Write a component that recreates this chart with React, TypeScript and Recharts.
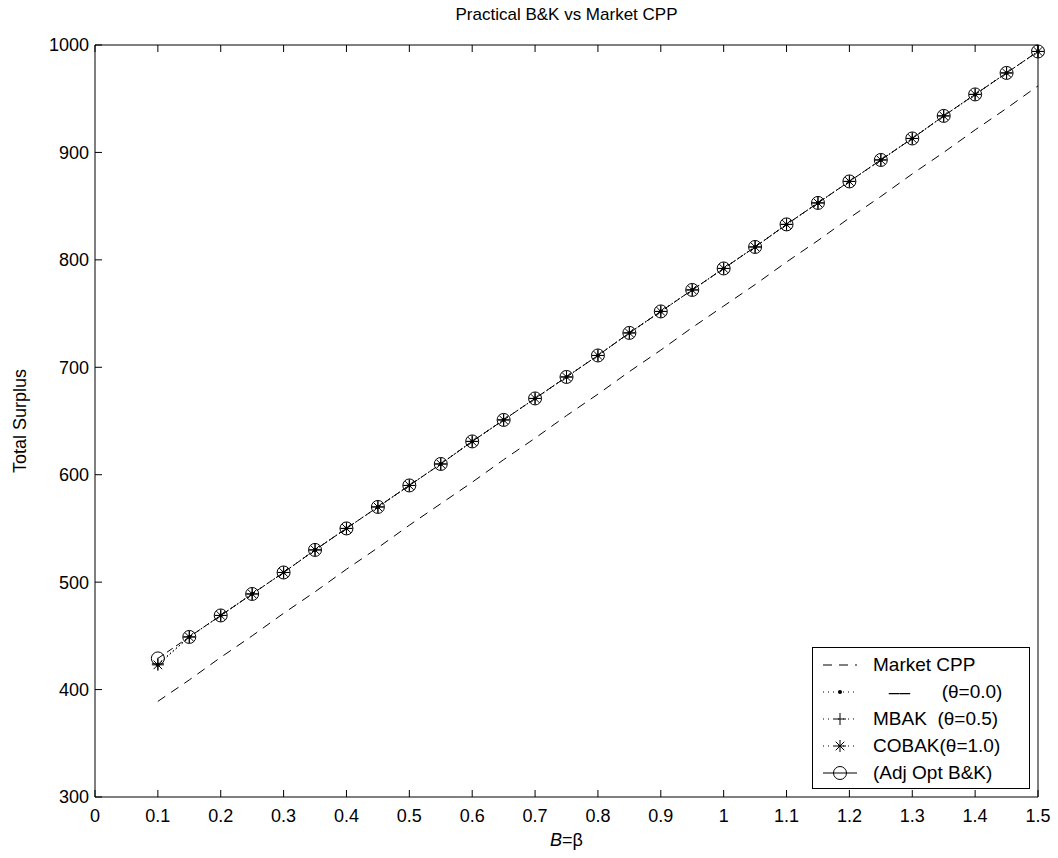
import React from 'react';
import { LineChart, Line, XAxis, YAxis, Legend } from 'recharts';

const betas = [0.1, 0.15, 0.2, 0.25, 0.3, 0.35, 0.4, 0.45, 0.5, 0.55, 0.6, 0.65, 0.7, 0.75, 0.8, 0.85, 0.9, 0.95, 1.0, 1.05, 1.1, 1.15, 1.2, 1.25, 1.3, 1.35, 1.4, 1.45, 1.5];
const marketCPP = [389, 409, 430, 450, 471, 491, 512, 532, 553, 573, 593, 614, 634, 655, 675, 696, 716, 737, 757, 777, 798, 818, 839, 859, 880, 900, 921, 941, 962];
const theta00 = [423, 449, 469, 489, 509, 530, 550, 570, 590, 610, 631, 651, 671, 691, 711, 732, 752, 772, 792, 812, 833, 853, 873, 893, 913, 934, 954, 974, 994];
const theta05 = [424, 449, 469, 489, 509, 530, 550, 570, 590, 610, 631, 651, 671, 691, 711, 732, 752, 772, 792, 812, 833, 853, 873, 893, 913, 934, 954, 974, 994];
const theta10 = [423, 449, 469, 489, 509, 530, 550, 570, 590, 610, 631, 651, 671, 691, 711, 732, 752, 772, 792, 812, 833, 853, 873, 893, 913, 934, 954, 974, 994];
const adjOpt = [429, 449, 469, 489, 509, 530, 550, 570, 590, 610, 631, 651, 671, 691, 711, 732, 752, 772, 792, 812, 833, 853, 873, 893, 913, 934, 954, 974, 994];

const xTicks = [0, 0.1, 0.2, 0.3, 0.4, 0.5, 0.6, 0.7, 0.8, 0.9, 1, 1.1, 1.2, 1.3, 1.4, 1.5];
const yTicks = [300, 400, 500, 600, 700, 800, 900, 1000];

const title = 'Practical B&K vs Market CPP';
const yLabel = 'Total Surplus';

const data = betas.map((b, i) => ({
  beta: b,
  market: marketCPP[i],
  t0: theta00[i],
  t5: theta05[i],
  t10: theta10[i],
  adj: adjOpt[i],
}));

const FONT = '"Liberation Sans", Arial, Helvetica, sans-serif';
const TICK_FS = 18;

type MarkerKind = 'none' | 'dot' | 'plus' | 'star' | 'circle';

const Marker = ({ kind, cx, cy }: { kind: MarkerKind; cx: number; cy: number }) => {
  const s = 6;
  if (kind === 'dot') return <circle cx={cx} cy={cy} r={2} fill="#000" />;
  if (kind === 'plus')
    return (
      <g stroke="#000" strokeWidth={1}>
        <line x1={cx - s} y1={cy} x2={cx + s} y2={cy} />
        <line x1={cx} y1={cy - s} x2={cx} y2={cy + s} />
      </g>
    );
  if (kind === 'star') {
    const d = s * 0.72;
    return (
      <g stroke="#000" strokeWidth={1}>
        <line x1={cx - s} y1={cy} x2={cx + s} y2={cy} />
        <line x1={cx} y1={cy - s} x2={cx} y2={cy + s} />
        <line x1={cx - d} y1={cy - d} x2={cx + d} y2={cy + d} />
        <line x1={cx - d} y1={cy + d} x2={cx + d} y2={cy - d} />
      </g>
    );
  }
  if (kind === 'circle') return <circle cx={cx} cy={cy} r={6.5} fill="none" stroke="#000" strokeWidth={1} />;
  return null;
};

const series = [
  { key: 'market', name: 'Market CPP', dash: '9 7', legendDash: '9 7', marker: 'none' as MarkerKind },
  { key: 't0', name: '   ––      (θ=0.0)', dash: '1 3', legendDash: '1 4', marker: 'dot' as MarkerKind },
  { key: 't5', name: 'MBAK  (θ=0.5)', dash: '1 3', legendDash: '1 4', marker: 'plus' as MarkerKind },
  { key: 't10', name: 'COBAK(θ=1.0)', dash: '1 3', legendDash: '1 4', marker: 'star' as MarkerKind },
  { key: 'adj', name: '(Adj Opt B&K)', dash: '7 4', legendDash: undefined, marker: 'circle' as MarkerKind },
];

const renderLegend = () => (
  <div
    style={{
      border: '1px solid #000',
      background: '#fff',
      width: 218,
      padding: '3px 0 2px 0',
      fontFamily: FONT,
      fontSize: 19,
      color: '#000',
      boxSizing: 'border-box',
    }}
  >
    {series.map((s) => (
      <div key={s.key} style={{ display: 'flex', alignItems: 'center', height: 27 }}>
        <svg width={60} height={20} style={{ display: 'block', flex: '0 0 auto' }}>
          <line x1={10} y1={10} x2={44} y2={10} stroke="#000" strokeWidth={1} strokeDasharray={s.legendDash} />
          <Marker kind={s.marker} cx={27} cy={10} />
        </svg>
        <span style={{ whiteSpace: 'pre' }}>{s.name}</span>
      </div>
    ))}
  </div>
);

export default function App() {
  return (
    <div style={{ position: 'absolute', left: 0, top: 0, background: '#fff' }}>
      <LineChart
        width={1058}
        height={858}
        data={data}
        margin={{ top: 15, right: 0, bottom: 31, left: 0 }}
        style={{ fontFamily: FONT }}
      >
        <XAxis
          dataKey="beta"
          type="number"
          domain={[0, 1.5]}
          ticks={xTicks}
          interval={0}
          height={30}
          stroke="#000"
          tickSize={-7}
          tickMargin={19}
          tick={{ fill: '#000', fontSize: TICK_FS, fontFamily: FONT }}
          tickFormatter={(v: number) => String(v)}
          label={{
            content: (p: any) => {
              const vb = p.viewBox || {};
              return (
                <text x={vb.x + vb.width / 2} y={846} textAnchor="middle" fontSize={TICK_FS} fontFamily={FONT} fill="#000">
                  <tspan fontStyle="italic">B</tspan>
                  <tspan>=β</tspan>
                </text>
              );
            },
          }}
        />
        <XAxis
          xAxisId="top"
          dataKey="beta"
          type="number"
          orientation="top"
          domain={[0, 1.5]}
          ticks={xTicks}
          interval={0}
          height={30}
          stroke="#000"
          tickSize={-7}
          tickFormatter={() => ''}
          label={{
            content: (p: any) => {
              const vb = p.viewBox || {};
              return (
                <text x={vb.x + vb.width / 2} y={20} textAnchor="middle" fontSize={17} fontFamily={FONT} fill="#000">
                  {title}
                </text>
              );
            },
          }}
        />
        <YAxis
          type="number"
          domain={[300, 1000]}
          ticks={yTicks}
          interval={0}
          width={95}
          stroke="#000"
          tickSize={-7}
          tickMargin={13}
          tick={{ fill: '#000', fontSize: TICK_FS, fontFamily: FONT }}
          label={{
            content: (p: any) => {
              const vb = p.viewBox || {};
              const cy = vb.y + vb.height / 2;
              return (
                <text
                  x={20}
                  y={cy}
                  transform={`rotate(-90 20 ${cy})`}
                  textAnchor="middle"
                  dominantBaseline="central"
                  fontSize={TICK_FS}
                  fontFamily={FONT}
                  fill="#000"
                >
                  {yLabel}
                </text>
              );
            },
          }}
        />
        <YAxis
          yAxisId="right"
          orientation="right"
          type="number"
          domain={[300, 1000]}
          ticks={yTicks}
          interval={0}
          width={20}
          stroke="#000"
          tickSize={-7}
          tickFormatter={() => ''}
        />
        {series.map((s) => (
          <Line
            key={s.key}
            dataKey={s.key}
            name={s.name}
            type="linear"
            stroke="#000"
            strokeWidth={1}
            strokeDasharray={s.dash}
            isAnimationActive={false}
            activeDot={false}
            dot={
              s.marker === 'none'
                ? false
                : (p: any) => (
                    <g key={`${s.key}-${p.index}`}>
                      <Marker kind={s.marker} cx={p.cx} cy={p.cy} />
                    </g>
                  )
            }
          />
        ))}
        <Legend
          layout="horizontal"
          verticalAlign="middle"
          align="center"
          content={renderLegend}
          wrapperStyle={{ left: 812, top: 647, width: 218 }}
        />
      </LineChart>
    </div>
  );
}
